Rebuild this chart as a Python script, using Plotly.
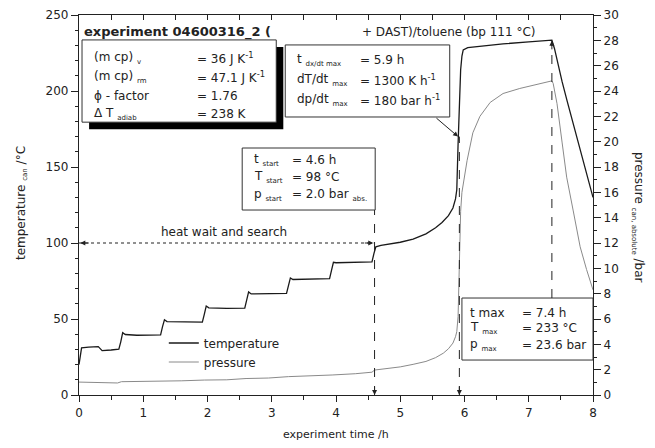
import plotly.graph_objects as go

# ---------------- data ----------------
time_T = [0.00, 0.02, 0.04, 0.15, 0.30, 0.33, 0.36, 0.50, 0.62, 0.65, 0.68, 0.72, 0.90, 1.10, 1.27,
          1.30, 1.33, 1.37, 1.60, 1.92, 1.95, 1.98, 2.02, 2.30, 2.58, 2.61, 2.64, 2.68, 2.95, 3.23,
          3.26, 3.29, 3.33, 3.60, 3.90, 3.93, 3.96, 4.00, 4.30, 4.56, 4.59, 4.62, 4.70, 4.85, 5.00,
          5.20, 5.40, 5.55, 5.65, 5.75, 5.82, 5.86, 5.88, 5.90, 5.92, 5.94, 5.96, 5.98, 6.05, 6.30,
          6.60, 7.00, 7.36, 7.40, 7.44, 7.52, 7.60, 7.70, 7.80, 7.90, 8.00]
temperature = [20, 27, 31, 31.5, 31.8, 30.5, 29.2, 29.6, 30.2, 35, 41, 39.8, 39.3, 39.4, 39.6,
               45, 49.5, 48.3, 48, 48, 53, 58.5, 57.3, 57, 57.2, 62, 67.8, 66.5, 66.5, 66.8,
               72, 77, 76, 76.2, 76.5, 82, 87.3, 87, 87.2, 87.6, 93, 97.5, 98.5, 99.5, 100.5,
               102.5, 106, 110, 113.5, 118, 123, 129, 135, 165, 195, 214, 223, 227, 228.5, 229.8,
               231, 232.3, 233.5, 228, 220, 206, 193, 177, 162, 146, 130]

time_p = [0.00, 0.30, 0.60, 0.66, 1.00, 1.30, 1.60, 1.95, 2.30, 2.60, 2.95, 3.26, 3.60, 3.94, 4.30,
          4.56, 4.60, 4.80, 5.00, 5.20, 5.40, 5.55, 5.67, 5.75, 5.82, 5.86, 5.88, 5.90, 5.92, 5.94,
          5.96, 6.00, 6.04, 6.13, 6.24, 6.40, 6.60, 6.86, 7.13, 7.36, 7.38, 7.44, 7.52, 7.59, 7.69,
          7.80, 7.90, 8.00]
pressure = [1.02, 0.97, 0.95, 1.05, 1.06, 1.10, 1.12, 1.18, 1.20, 1.30, 1.34, 1.45, 1.50, 1.58, 1.68,
            1.80, 1.97, 2.1, 2.22, 2.42, 2.65, 2.95, 3.3, 3.65, 4.1, 4.6, 5.0, 6.2, 11.7, 14.5,
            16.0, 17.4, 18.5, 20.7, 22.0, 23.1, 23.8, 24.2, 24.5, 24.8, 24.6, 23.0, 19.9, 17.2, 14.6,
            11.7, 9.9, 8.3]

# key values
t_start, T_start, p_start = 4.6, 98, 2.0
t_dx = 5.9
t_max, T_max, p_max = 7.4, 233, 23.6
T_pointer = 170
heat_level = 100

x_ticks = [0, 1, 2, 3, 4, 5, 6, 7, 8]
yT_ticks = [0, 50, 100, 150, 200, 250]
yp_ticks = list(range(0, 31, 2))

FONT = "DejaVu Sans"
INK = "#222222"

fig = go.Figure()
fig.add_trace(go.Scatter(x=time_T, y=temperature, mode="lines", name="temperature",
                         line=dict(color="#1a1a1a", width=1.3)))
fig.add_trace(go.Scatter(x=time_p, y=pressure, mode="lines", name="pressure", yaxis="y2",
                         line=dict(color="#8a8a8a", width=1)))
# invisible trace to activate top axis
fig.add_trace(go.Scatter(x=[0, 8], y=[None, None], xaxis="x2", showlegend=False,
                         hoverinfo="skip", mode="lines"))

shapes = []
ann = []

def box(x0, x1, y0, y1, shadow=False):
    if shadow:
        shapes.append(dict(type="rect", xref="x", yref="y", x0=x0 + 0.11, x1=x1 + 0.11,
                           y0=y0 - 4.6, y1=y1 - 4.6, fillcolor="black", line=dict(width=0)))
    shapes.append(dict(type="rect", xref="x", yref="y", x0=x0, x1=x1, y0=y0, y1=y1,
                       fillcolor="white", line=dict(color="#333333", width=1)))

def txt(x, y, s, size=12, bold=False, anchor="left"):
    ann.append(dict(x=x, y=y, xref="x", yref="y", text=("<b>%s</b>" % s) if bold else s,
                    showarrow=False, xanchor=anchor, yanchor="middle",
                    font=dict(family=FONT, size=size, color=INK)))

def sub(s):
    return '<sub><span style="font-size:7px">%s</span></sub>' % s

# box 1
box(0.047, 3.07, 179.5, 233.6, shadow=True)
rows1 = [("(m cp) " + sub("v"), "= 36 J K<sup>-1</sup>", 221.7),
         ("(m cp) " + sub("rm"), "= 47.1 J K<sup>-1</sup>", 209.2),
         ("\u03d5 - factor", "= 1.76", 196.7),
         ("\u0394 T " + sub("adiab"), "= 238 K", 185.0)]
for a, b, y in rows1:
    txt(0.2, y, a)
    txt(1.8, y, b)

# box 2
box(3.21, 5.77, 182.9, 230.3)
rows2 = [("t " + sub("dx/dt max"), "= 5.9 h", 220.4),
         ("dT/dt " + sub("max"), "= 1300 K h<sup>-1</sup>", 207.2),
         ("dp/dt " + sub("max"), "= 180 bar h<sup>-1</sup>", 194.0)]
for a, b, y in rows2:
    txt(3.36, y, a)
    txt(4.34, y, b)

# box 3
box(2.54, 4.61, 121.7, 162.5)
rows3 = [("t " + sub("start"), "= %.1f h" % t_start, 154.6),
         ("T " + sub("start"), "= %d \u00b0C" % T_start, 143.4),
         ("p " + sub("start"), "= %.1f bar " % p_start + sub("abs."), 131.6)]
for a, b, y in rows3:
    txt(2.69, y, a)
    txt(3.28, y, b)

# box 4
box(5.96, 8.0, 23.0, 63.8)
rows4 = [("t max", "= %.1f h" % t_max, 53.9),
         ("T " + sub("max"), "= %d \u00b0C" % T_max, 44.0),
         ("p " + sub("max"), "= %.1f bar" % p_max, 32.9)]
for a, b, y in rows4:
    txt(6.05, y, a)
    txt(6.86, y, b)

# title pieces
txt(0.047, 238.8, "experiment 04600316_2 (", size=13, bold=True)
txt(4.37, 238.8, "+ DAST)/toluene (bp 111 \u00b0C)")

# dashed verticals
shapes.append(dict(type="line", xref="x", yref="y", x0=t_start, x1=t_start, y0=0, y1=121.7,
                   line=dict(color=INK, width=1, dash="dash")))
shapes.append(dict(type="line", xref="x", yref="y", x0=t_dx + 0.02, x1=t_dx + 0.02, y0=0, y1=T_pointer,
                   line=dict(color=INK, width=1, dash="dash")))
shapes.append(dict(type="line", xref="x", yref="y", x0=7.36, x1=7.36, y0=63.8, y1=233,
                   line=dict(color=INK, width=1, dash="dash")))
# heat wait dotted line
shapes.append(dict(type="line", xref="x", yref="y", x0=0, x1=t_start - 0.02, y0=heat_level, y1=heat_level,
                   line=dict(color=INK, width=1.2, dash="dot")))
txt(2.26, 107, "heat wait and search", anchor="center")

def arrow(x, y, ax, ay):
    ann.append(dict(x=x, y=y, xref="x", yref="y", ax=ax, ay=ay, text="", showarrow=True,
                    arrowhead=2, arrowsize=1, arrowwidth=1, arrowcolor=INK))

arrow(t_start, 0, 0, -10)
arrow(t_dx + 0.02, 0, 0, -10)
arrow(7.36, 233, 0, 10)
arrow(t_start - 0.02, heat_level, -10, 0)
arrow(0.02, heat_level, 10, 0)
ann.append(dict(x=t_dx, y=T_pointer, xref="x", yref="y", axref="x", ayref="y", ax=5.54, ay=183,
                text="", showarrow=True, arrowhead=2, arrowsize=1, arrowwidth=1, arrowcolor=INK))

# axis titles
ann.append(dict(x=0.5, y=-0.105, xref="paper", yref="paper", text="experiment time /h",
                showarrow=False, xanchor="center", yanchor="middle",
                font=dict(family=FONT, size=11, color=INK)))
ann.append(dict(x=-0.111, y=0.505, xref="paper", yref="paper",
                text="temperature " + sub("can") + " /\u00b0C", textangle=-90,
                showarrow=False, xanchor="center", yanchor="middle",
                font=dict(family=FONT, size=12, color=INK)))
ann.append(dict(x=1.0875, y=0.466, xref="paper", yref="paper",
                text="pressure " + sub("can, absolute") + " /bar", textangle=90,
                showarrow=False, xanchor="center", yanchor="middle",
                font=dict(family=FONT, size=12, color=INK)))

axis_common = dict(showgrid=False, zeroline=False, showline=True, linecolor=INK, linewidth=1.2,
                   tickcolor=INK, tickfont=dict(family=FONT, size=12, color=INK), automargin=False)

# page body has an 8px default margin, so the figure is 8px smaller and margins shifted
fig.update_layout(
    width=647, height=440,
    margin=dict(l=71, r=62, t=7, b=53),
    paper_bgcolor="white", plot_bgcolor="white",
    shapes=shapes, annotations=ann,
    showlegend=True,
    legend=dict(x=0.165, y=0.175, xanchor="left", yanchor="top", bgcolor="rgba(0,0,0,0)",
                font=dict(family=FONT, size=12, color=INK), tracegroupgap=0, itemwidth=30),
    xaxis=dict(range=[0, 8], tickvals=x_ticks, ticks="outside", ticklen=6,
               minor=dict(dtick=0.5, ticks="outside", ticklen=4, tickcolor=INK), **axis_common),
    xaxis2=dict(range=[0, 8], overlaying="x", side="top", showticklabels=False, ticks="inside",
                ticklen=5, dtick=0.5, showgrid=False, zeroline=False, showline=True,
                linecolor=INK, linewidth=1.2, tickcolor=INK, automargin=False),
    yaxis=dict(range=[0, 250], tickvals=yT_ticks, ticks="outside", ticklen=7,
               minor=dict(dtick=10, ticks="outside", ticklen=3, tickcolor=INK), **axis_common),
    yaxis2=dict(range=[0, 30], tickvals=yp_ticks, ticks="outside", ticklen=7, overlaying="y",
                side="right", anchor="x",
                minor=dict(dtick=1, ticks="outside", ticklen=3, tickcolor=INK), **axis_common),
)

fig.write_html("out.html")
